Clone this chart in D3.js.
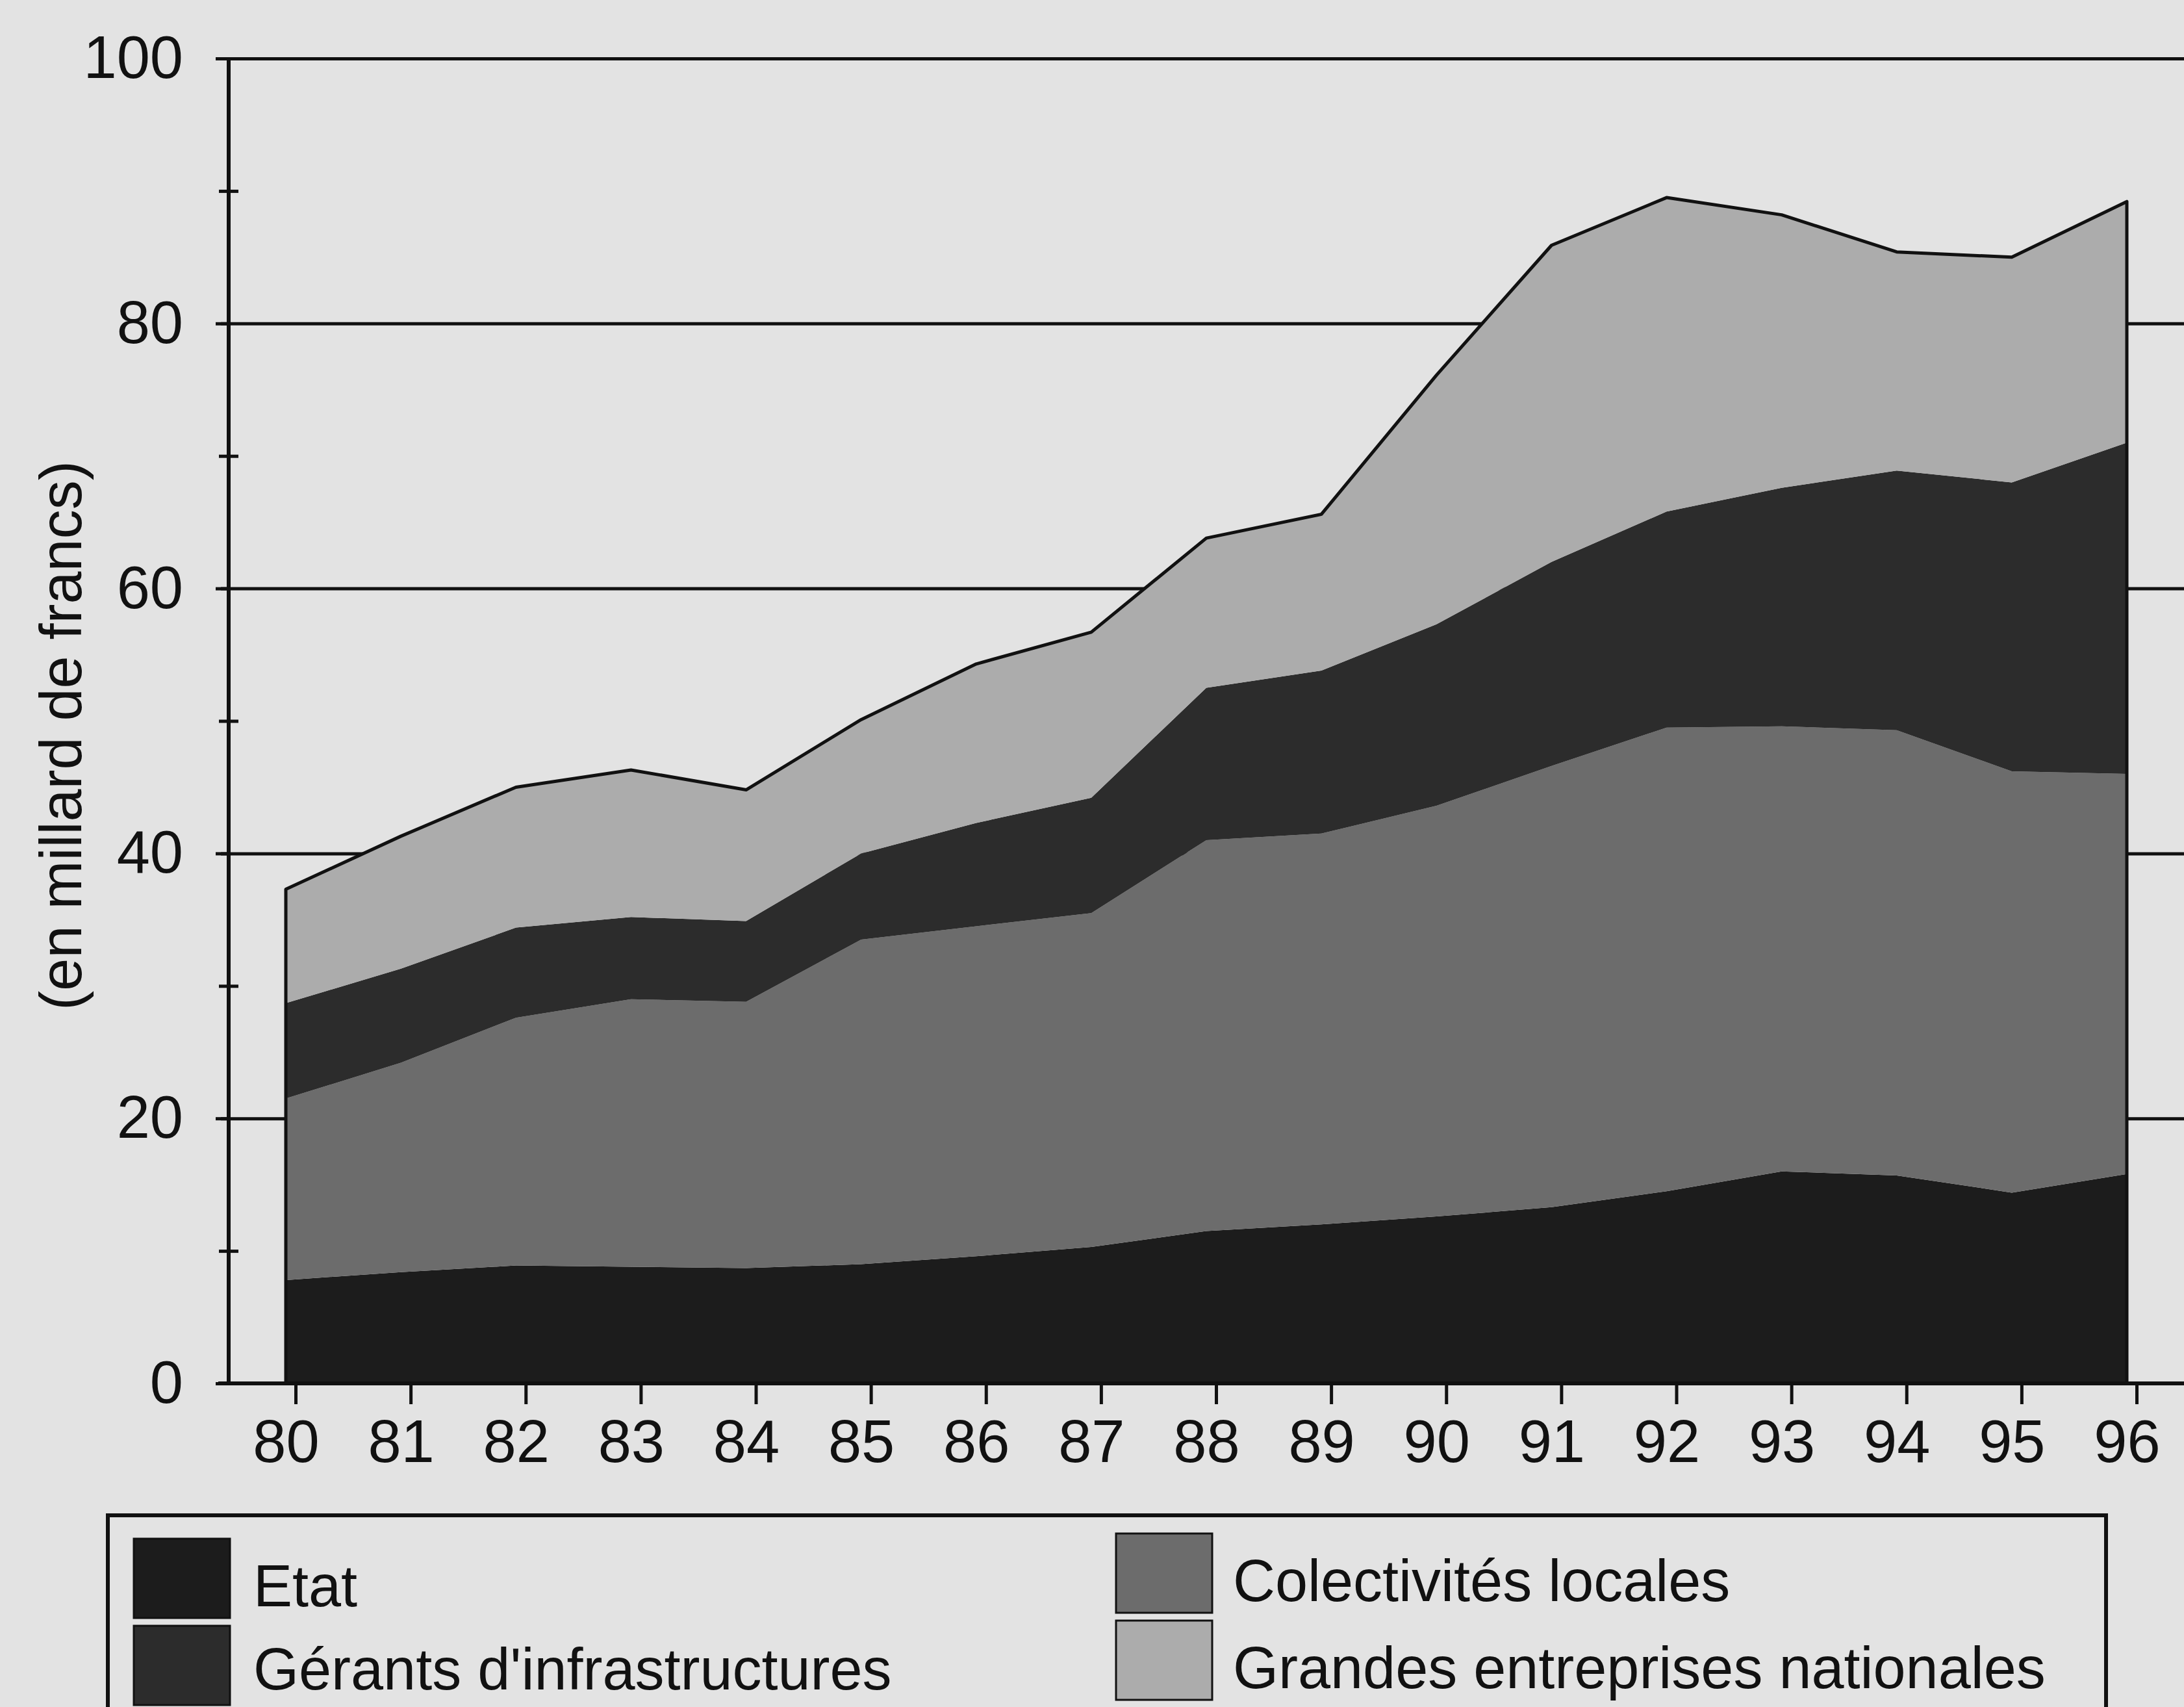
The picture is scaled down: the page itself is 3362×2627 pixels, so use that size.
<!DOCTYPE html>
<html>
<head>
<meta charset="utf-8">
<script src="https://cdn.jsdelivr.net/npm/d3@7"></script>
<style>
  html, body { margin: 0; padding: 0; background: #e3e3e3; }
  svg { display: block; }
  text { font-family: "Liberation Sans", Arial, Helvetica, sans-serif; fill: #111; }
</style>
</head>
<body>
<script>
// ---- data ----
const years = [80, 81, 82, 83, 84, 85, 86, 87, 88, 89, 90, 91, 92, 93, 94, 95, 96];
const etat = [7.8, 8.4, 8.9, 8.8, 8.7, 9.0, 9.6, 10.3, 11.5, 12.0, 12.6, 13.3, 14.5, 16.0, 15.7, 14.4, 15.8];
const collectivites = [13.7, 15.8, 18.7, 20.2, 20.1, 24.5, 24.9, 25.2, 29.5, 29.5, 31.0, 33.3, 35.0, 33.6, 33.6, 31.8, 30.2];
const gerants = [7.2, 7.1, 6.8, 6.2, 6.1, 6.5, 7.8, 8.7, 11.5, 12.3, 13.7, 15.4, 16.3, 18.0, 19.6, 21.8, 25.0];
const grandes = [8.6, 10.0, 10.6, 11.1, 9.9, 10.1, 12.0, 12.5, 11.3, 11.8, 18.8, 23.9, 23.7, 20.6, 16.5, 17.0, 18.2];
const seriesNames = ["Etat", "Colectivités locales", "Gérants d'infrastructures", "Grandes entreprises nationales"];
const seriesColors = ["#1c1c1c", "#6c6c6c", "#2c2c2c", "#acacac"];
const yMajorTicks = [0, 20, 40, 60, 80, 100];
const yMinorTicks = [10, 30, 50, 70, 90];
const yTitle = "(en millard de francs)";

const W = 3362, H = 2627;
const svg = d3.select("body").append("svg").attr("width", W).attr("height", H);
svg.append("rect").attr("width", W).attr("height", H).attr("fill", "#e3e3e3");

const x = d3.scaleLinear().domain([80, 96]).range([440, 3274]);
const y = d3.scaleLinear().domain([0, 100]).range([2129, 90]);
const axisX = 352;

// table for stacking
const table = years.map((yr, i) => ({
  year: yr,
  [seriesNames[0]]: etat[i],
  [seriesNames[1]]: collectivites[i],
  [seriesNames[2]]: gerants[i],
  [seriesNames[3]]: grandes[i]
}));
const stacked = d3.stack().keys(seriesNames)(table);

// gridlines (behind areas)
const grid = svg.append("g").attr("transform", `translate(${axisX - 12},0)`)
  .call(d3.axisRight(y).tickValues(yMajorTicks.filter(d => d > 0)).tickSize(W - axisX + 12).tickFormat(""));
grid.select(".domain").remove();
grid.selectAll("line").attr("stroke", "#111").attr("stroke-width", 5);

// areas
const area = d3.area()
  .x(d => x(d.data.year))
  .y0(d => y(d[0]))
  .y1(d => y(d[1]))
  .curve(d3.curveLinear);
svg.append("g").selectAll("path").data(stacked).join("path")
  .attr("d", area)
  .attr("fill", (d, i) => seriesColors[i]);

// outline of the whole stack
const totals = table.map(d => ({ year: d.year, v: seriesNames.reduce((s, k) => s + d[k], 0) }));
const outlinePts = [{ year: years[0], v: 0 }, ...totals, { year: years[years.length - 1], v: 0 }];
svg.append("path")
  .attr("d", d3.line().x(d => x(d.year)).y(d => y(d.v))(outlinePts))
  .attr("fill", "none").attr("stroke", "#111").attr("stroke-width", 5).attr("stroke-linejoin", "round");

// x axis baseline
svg.append("line").attr("x1", axisX - 16).attr("x2", W).attr("y1", y(0)).attr("y2", y(0))
  .attr("stroke", "#111").attr("stroke-width", 6);

// x axis ticks & labels
const xa = svg.append("g").attr("transform", `translate(0,${y(0)})`)
  .call(d3.axisBottom(x).tickValues(years).tickSize(32).tickPadding(24).tickFormat(d3.format("d")));
xa.select(".domain").remove();
xa.selectAll("line").attr("stroke", "#111").attr("stroke-width", 5).attr("transform", "translate(15,0)");
xa.selectAll("text").attr("font-size", 92).attr("fill", "#111")
  .style("font-family", '"Liberation Sans", Arial, sans-serif');

// y axis
const ya = svg.append("g").attr("transform", `translate(${axisX},0)`)
  .call(d3.axisLeft(y).tickValues(yMajorTicks).tickSize(20).tickPadding(50).tickFormat(d3.format("d")));
ya.select(".domain").attr("stroke", "#111").attr("stroke-width", 6).attr("d", `M0,${y(0)}V${y(100)}`);
ya.selectAll("line").attr("stroke", "#111").attr("stroke-width", 5);
ya.selectAll("text").attr("font-size", 92).attr("fill", "#111")
  .style("font-family", '"Liberation Sans", Arial, sans-serif');

// minor y ticks (small crosses)
const ym = svg.append("g").attr("transform", `translate(${axisX + 15},0)`)
  .call(d3.axisLeft(y).tickValues(yMinorTicks).tickSize(30).tickFormat(""));
ym.select(".domain").remove();
ym.selectAll("line").attr("stroke", "#111").attr("stroke-width", 5);

// y title
svg.append("text")
  .attr("transform", `translate(125,1132) rotate(-90)`)
  .attr("text-anchor", "middle")
  .attr("font-size", 90)
  .text(yTitle);

// legend
const lg = svg.append("g");
lg.append("rect").attr("x", 166).attr("y", 2332).attr("width", 3076).attr("height", 400)
  .attr("fill", "none").attr("stroke", "#111").attr("stroke-width", 6);
const legendPos = [
  { sx: 206, sy: 2368, tx: 390, ty: 2472 },
  { sx: 1718, sy: 2360, tx: 1898, ty: 2464 },
  { sx: 206, sy: 2502, tx: 390, ty: 2600 },
  { sx: 1718, sy: 2494, tx: 1898, ty: 2598 }
];
seriesNames.forEach((name, i) => {
  const p = legendPos[i];
  lg.append("rect").attr("x", p.sx).attr("y", p.sy).attr("width", 148).attr("height", 122)
    .attr("fill", seriesColors[i]).attr("stroke", "#111").attr("stroke-width", 3);
  lg.append("text").attr("x", p.tx).attr("y", p.ty).attr("font-size", 90).text(name);
});
</script>
</body>
</html>
